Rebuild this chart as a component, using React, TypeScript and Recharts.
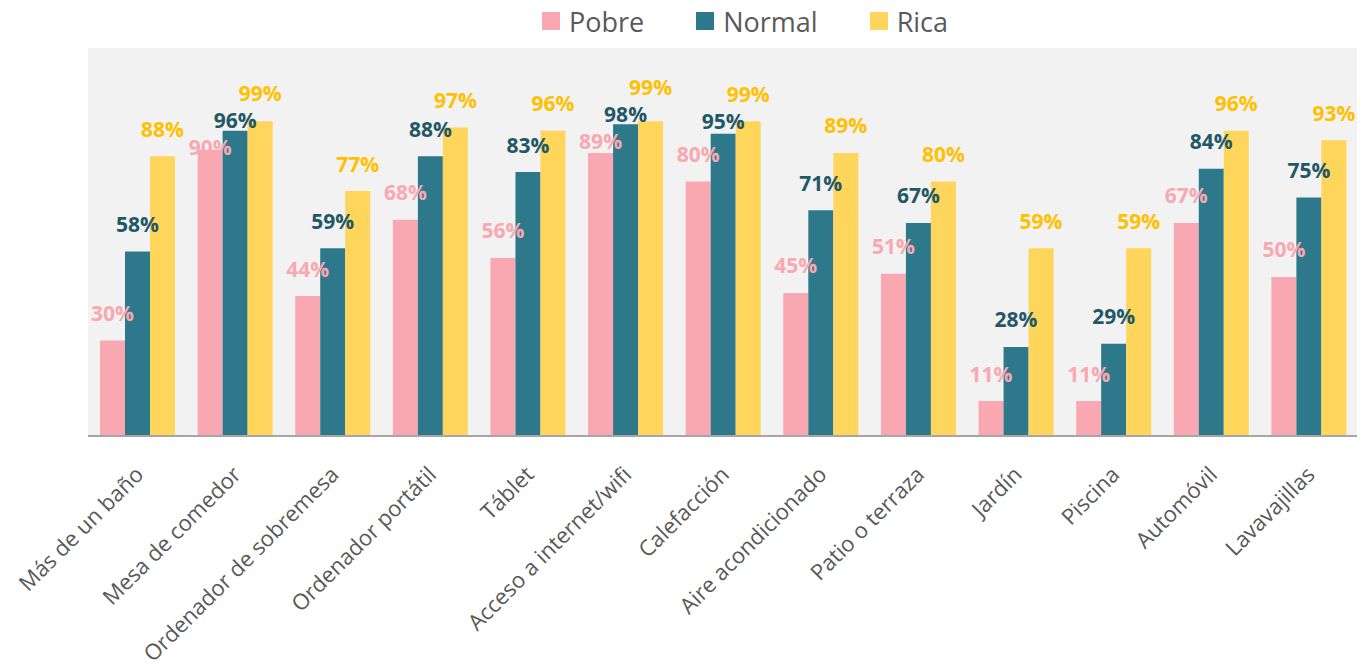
import React from "react";
import { BarChart, Bar, XAxis, YAxis, CartesianGrid, Legend, LabelList } from "recharts";

const categories = [
  "Más de un baño",
  "Mesa de comedor",
  "Ordenador de sobremesa",
  "Ordenador portátil",
  "Táblet",
  "Acceso a internet/wifi",
  "Calefacción",
  "Aire acondicionado",
  "Patio o terraza",
  "Jardín",
  "Piscina",
  "Automóvil",
  "Lavavajillas",
];
const pobre = [30, 90, 44, 68, 56, 89, 80, 45, 51, 11, 11, 67, 50];
const normal = [58, 96, 59, 88, 83, 98, 95, 71, 67, 28, 29, 84, 75];
const rica = [88, 99, 77, 97, 96, 99, 99, 89, 80, 59, 59, 96, 93];

const FONT = "'Open Sans', sans-serif";
const COLORS = { pobre: "#f9a8b1", normal: "#2d788b", rica: "#ffd55b" };
const LABEL_COLORS = { pobre: "#f9a8b1", normal: "#1f5866", rica: "#ffc000" };

const Y_MAX = 122;
const LABEL_GAP = 27; // label centre above bar top
const MIN_SEP = 27; // vertical room between neighbouring labels

const data = categories.map((name, i) => ({
  name,
  pobre: pobre[i],
  normal: normal[i],
  rica: rica[i],
}));

// stack the three labels of a group so they don't sit on top of each other
const labelShift = (index: number, pxPerUnit: number) => {
  const centre = (v: number) => -v * pxPerUnit - LABEL_GAP;
  let r = centre(rica[index]);
  let n = Math.max(centre(normal[index]), r + MIN_SEP);
  let p = Math.max(centre(pobre[index]), n + MIN_SEP);
  // don't let the normal label sink into its own bar; lift the group instead
  const lift = Math.max(0, n - (-normal[index] * pxPerUnit - 10));
  r -= lift;
  n -= lift;
  p -= lift;
  return {
    rica: r - centre(rica[index]),
    normal: n - centre(normal[index]),
    pobre: p - centre(pobre[index]),
  };
};

const makeLabel = (key: "pobre" | "normal" | "rica") => (props: any) => {
  const { x, y, width, height, value, index } = props;
  const pxPerUnit = height / value;
  const shift = labelShift(index, pxPerUnit)[key];
  const cy = y - LABEL_GAP + shift;
  return (
    <text
      x={x + width / 2}
      y={cy + 7.5}
      textAnchor="middle"
      fill={LABEL_COLORS[key]}
      fontSize={21}
      fontWeight={700}
      fontFamily={FONT}
    >
      {value}%
    </text>
  );
};

const AngledTick = (props: any) => {
  const { x, y, payload } = props;
  const px = x + 8;
  const py = y + 32;
  return (
    <text
      x={px}
      y={py}
      textAnchor="end"
      transform={`rotate(-45, ${px}, ${py})`}
      fill="#595959"
      fontSize={22}
      fontFamily={FONT}
    >
      {payload.value}
    </text>
  );
};

const legendItems = [
  { label: "Pobre", color: COLORS.pobre },
  { label: "Normal", color: COLORS.normal },
  { label: "Rica", color: COLORS.rica },
];

const LegendContent = () => (
  <div style={{ display: "flex", alignItems: "center", paddingLeft: 542, height: 42, gap: 52 }}>
    {legendItems.map((it) => (
      <div key={it.label} style={{ display: "flex", alignItems: "center", gap: 9 }}>
        <div style={{ width: 18, height: 18, background: it.color }} />
        <span style={{ fontFamily: FONT, fontSize: 27, color: "#595959", lineHeight: "27px" }}>
          {it.label}
        </span>
      </div>
    ))}
  </div>
);

export default function App() {
  return (
    <div style={{ position: "absolute", left: 0, top: 0, background: "#fff" }}>
      <BarChart
        width={1367}
        height={669}
        data={data}
        margin={{ top: 0, right: 10, left: 88, bottom: 10 }}
        barCategoryGap="12.3%"
        barGap={0}
      >
        <CartesianGrid fill="#f2f2f2" stroke="none" horizontal={false} vertical={false} />
        <Legend
          verticalAlign="top"
          align="left"
          content={<LegendContent />}
          wrapperStyle={{ top: 0, left: 0, width: 1367, height: 48, margin: 0 }}
        />
        <XAxis
          dataKey="name"
          interval={0}
          height={223}
          tick={<AngledTick />}
          tickLine={false}
          axisLine={{ stroke: "#a6a6a6", strokeWidth: 2 }}
        />
        <YAxis hide domain={[0, Y_MAX]} />
        <Bar dataKey="pobre" fill={COLORS.pobre} isAnimationActive={false}>
          <LabelList dataKey="pobre" content={makeLabel("pobre")} />
        </Bar>
        <Bar dataKey="normal" fill={COLORS.normal} isAnimationActive={false}>
          <LabelList dataKey="normal" content={makeLabel("normal")} />
        </Bar>
        <Bar dataKey="rica" fill={COLORS.rica} isAnimationActive={false}>
          <LabelList dataKey="rica" content={makeLabel("rica")} />
        </Bar>
      </BarChart>
    </div>
  );
}
